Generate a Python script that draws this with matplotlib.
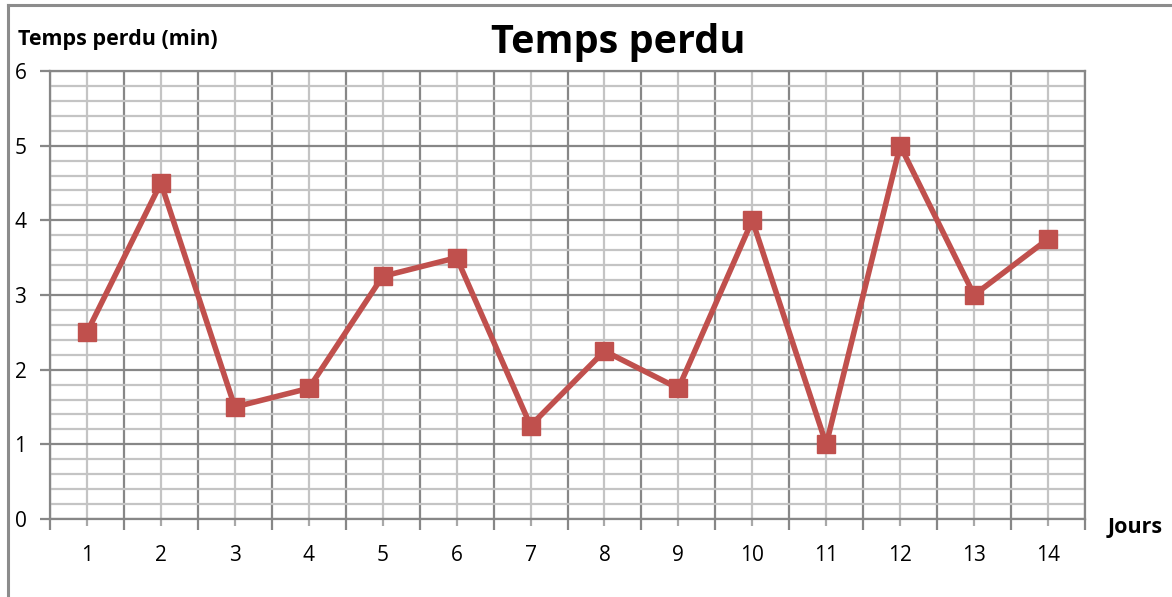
import matplotlib.pyplot as plt
from matplotlib.ticker import MultipleLocator, FixedLocator, NullFormatter
from matplotlib.lines import Line2D

jours = list(range(1, 15))
temps_perdu = [2.5, 4.5, 1.5, 1.75, 3.25, 3.5, 1.25, 2.25, 1.75, 4, 1, 5, 3, 3.75]

plt.rcParams["font.family"] = ["Open Sans", "DejaVu Sans"]

fig = plt.figure(figsize=(11.72, 5.97), dpi=100)
ax = fig.add_axes([50 / 1172, 1 - 519 / 597, 1035 / 1172, 448 / 597])

# outer chart border (only top and left visible, as in the crop)
fig.add_artist(Line2D([8 / 1172, 1], [1 - 5 / 597, 1 - 5 / 597], color="#8c8c8c", lw=2.2, transform=fig.transFigure))
fig.add_artist(Line2D([8 / 1172, 8 / 1172], [0, 1 - 5 / 597], color="#8c8c8c", lw=2.2, transform=fig.transFigure))

ax.set_xlim(0.5, 14.5)
ax.set_ylim(0, 6)

# gridlines
ax.xaxis.set_major_locator(FixedLocator([x + 0.5 for x in range(0, 15)]))
ax.xaxis.set_major_formatter(NullFormatter())
ax.set_xticks(jours, [str(j) for j in jours], minor=True)
ax.yaxis.set_major_locator(MultipleLocator(1))
ax.yaxis.set_minor_locator(MultipleLocator(0.2))

ax.grid(which="major", color="#878787", lw=1.6)
ax.grid(which="minor", color="#c4c4c4", lw=1.6)
ax.set_axisbelow(True)

for side in ["top", "right", "left", "bottom"]:
    ax.spines[side].set_color("#878787")
    ax.spines[side].set_linewidth(1.6)

ax.tick_params(axis="y", which="major", length=7, width=1.6, color="#878787", labelsize=15, pad=10)
ax.tick_params(axis="y", which="minor", length=0)
ax.tick_params(axis="x", which="major", length=8, width=1.6, color="#878787")
ax.tick_params(axis="x", which="minor", length=5, width=1.6, color="#a8a8a8", labelsize=15, pad=14)

ax.plot(jours, temps_perdu, color="#c0504d", lw=4, marker="s", markersize=13.5,
        markeredgecolor="#c0504d", zorder=3)

fig.text(618 / 1172, 1 - 42 / 597, "Temps perdu", ha="center", va="center",
         fontsize=28.5, fontweight="bold")
fig.text(18 / 1172, 1 - 40 / 597, "Temps perdu (min)", ha="left", va="center",
         fontsize=15.5, fontweight="bold")
fig.text(1108 / 1172, 1 - 528 / 597, "Jours", ha="left", va="center",
         fontsize=15.5, fontweight="bold")

fig.savefig("out.png", dpi=100)
